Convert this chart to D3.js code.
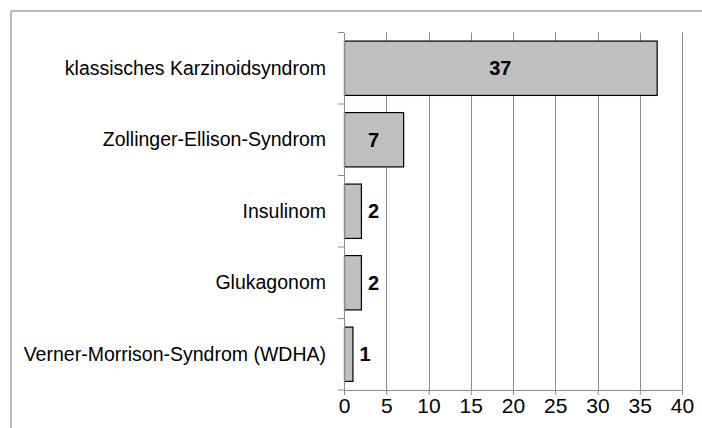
<!DOCTYPE html>
<html>
<head>
<meta charset="utf-8">
<script src="https://cdn.jsdelivr.net/npm/d3@7"></script>
<style>
  body { margin: 0; background: #fff; }
  svg { display: block; font-family: "Liberation Sans", Arial, sans-serif; }
</style>
</head>
<body>
<svg id="chart" width="702" height="428"></svg>
<script>
var categories = ['klassisches Karzinoidsyndrom', 'Zollinger-Ellison-Syndrom', 'Insulinom', 'Glukagonom', 'Verner-Morrison-Syndrom (WDHA)'];
var values = [37, 7, 2, 2, 1];
var xTicks = [0, 5, 10, 15, 20, 25, 30, 35, 40];

var margin = {top: 32.5, right: 20, bottom: 38, left: 344};
var width = 682 - margin.left,
    height = 390 - margin.top;

var svg = d3.select('#chart');

// outer frame
svg.append('rect')
    .attr('x', 11)
    .attr('y', 11)
    .attr('width', 700)
    .attr('height', 430)
    .attr('fill', 'none')
    .attr('stroke', '#a6a6a6')
    .attr('stroke-width', 1.5);

var g = svg.append('g').attr('transform', 'translate(' + margin.left + ',' + margin.top + ')');

var x = d3.scaleLinear().domain([0, 40]).range([0, width]);
var y = d3.scaleBand().domain(categories).range([0, height]).paddingInner(0.24).paddingOuter(0.12);

// grid lines
g.selectAll('.grid')
    .data(xTicks.slice(1))
    .join('line')
    .attr('class', 'grid')
    .attr('x1', d => Math.round(x(d)) + 0.5)
    .attr('x2', d => Math.round(x(d)) + 0.5)
    .attr('y1', 0)
    .attr('y2', height)
    .attr('stroke', '#8c8c8c')
    .attr('stroke-width', 1);

// bars
g.selectAll('.bar')
    .data(values)
    .join('rect')
    .attr('class', 'bar')
    .attr('x', 0.5)
    .attr('y', (d, i) => y(categories[i]))
    .attr('width', d => x(d))
    .attr('height', y.bandwidth())
    .attr('fill', '#c0c0c0')
    .attr('stroke', '#000')
    .attr('stroke-width', 1.2);

// value labels
g.selectAll('.val')
    .data(values)
    .join('text')
    .attr('class', 'val')
    .attr('x', d => d >= 5 ? x(d) / 2 : x(d) + 7)
    .attr('y', (d, i) => y(categories[i]) + y.bandwidth() / 2)
    .attr('dy', '0.36em')
    .attr('text-anchor', d => d >= 5 ? 'middle' : 'start')
    .attr('font-size', 20)
    .attr('font-weight', 'bold')
    .attr('fill', '#000')
    .text(d => d);

// x axis
var xAxis = g.append('g')
    .attr('transform', 'translate(0,' + height + ')')
    .call(d3.axisBottom(x).tickValues(xTicks).tickSize(5).tickSizeOuter(0));
xAxis.select('.domain').attr('stroke', '#8c8c8c');
xAxis.selectAll('.tick line').attr('stroke', '#8c8c8c');
xAxis.selectAll('.tick text')
    .attr('font-size', 21)
    .attr('fill', '#000')
    .attr('font-family', '"Liberation Sans", Arial, sans-serif')
    .attr('dy', '0.36em')
    .attr('y', 15);

// y axis
var yAxis = g.append('g')
    .call(d3.axisLeft(y).tickSize(0).tickPadding(18));
yAxis.select('.domain').attr('stroke', '#8c8c8c');
yAxis.selectAll('.tick text')
    .attr('font-size', 19.5)
    .attr('fill', '#000')
    .attr('font-family', '"Liberation Sans", Arial, sans-serif');

// category boundary ticks
var step = height / categories.length;
g.selectAll('.ytick')
    .data(d3.range(categories.length + 1))
    .join('line')
    .attr('class', 'ytick')
    .attr('x1', -6)
    .attr('x2', 0)
    .attr('y1', d => d * step)
    .attr('y2', d => d * step)
    .attr('stroke', '#8c8c8c');
</script>
</body>
</html>
